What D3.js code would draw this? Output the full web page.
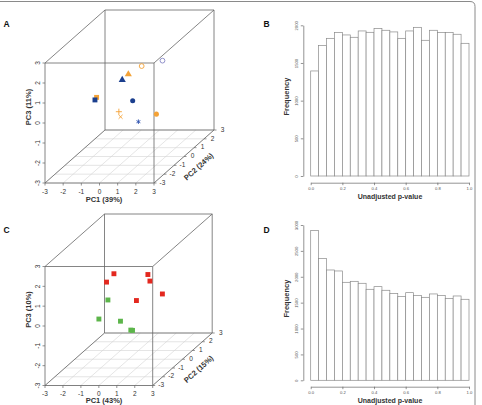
<!DOCTYPE html>
<html>
<head>
<meta charset="utf-8">
<script src="https://cdn.jsdelivr.net/npm/d3@7"></script>
<style>
  body { margin: 0; background: #fff; }
  text { font-family: "Liberation Sans", Arial, sans-serif; }
</style>
</head>
<body>
<div id="container"></div>
<script>
/* CONSTANTS AND GLOBALS */
const width = 482,
  height = 405;

/* DATA */
// panel A - PCA scores (PC1, PC2, PC3) per sample
const pcaA_pc1 = [0.12, 0.99, -0.34, -0.40, -0.71, -0.69, -0.10, -0.31, -0.16, 0.49, 2.03];
const pcaA_pc2 = [1.0, 1.5, 0.5, 0.0, -2.0, -2.2, 0.5, -0.5, -0.6, 0.0, -1.0];
const pcaA_pc3 = [1.08, 1.13, 0.89, 0.83, 0.84, 0.80, -0.43, -0.54, -0.75, -1.26, -0.44];
const pcaA_group = ["orange", "lilac", "orange", "blue", "orange", "blue", "blue", "orange", "orange", "blue", "orange"];
const pcaA_shape = ["circleOpen", "circleOpen", "triangle", "triangle", "square", "square", "circle", "plus", "times", "asterisk", "circle"];

// panel C - PCA scores, two groups
const pcaC_pc1 = [-1.37, -1.23, -0.03, 0.36, 1.33, 0.16, -0.60, -0.55, 0.10, 0.40, 0.55];
const pcaC_pc2 = [1.0, 0.0, 2.0, 1.5, 1.0, 0.5, -1.0, -2.0, -1.0, -0.5, -0.6];
const pcaC_pc3 = [0.87, 0.89, 0.39, 0.28, -0.15, -0.26, 0.43, -0.09, -0.64, -1.31, -1.28];
const pcaC_group = ["red", "red", "red", "red", "red", "red", "green", "green", "green", "green", "green"];

const pcTicks = [-3, -2, -1, 0, 1, 2, 3];

// histograms - bins of width 0.05 on [0, 1]
const binStarts = [0, 0.05, 0.1, 0.15, 0.2, 0.25, 0.3, 0.35, 0.4, 0.45, 0.5, 0.55, 0.6, 0.65, 0.7, 0.75, 0.8, 0.85, 0.9, 0.95];
const histB_counts = [1394, 1730, 1827, 1903, 1872, 1841, 1925, 1907, 1956, 1934, 1912, 1827, 1925, 1973, 1801, 1934, 1903, 1903, 1881, 1761];
const histD_counts = [2891, 2350, 2131, 2112, 1893, 1912, 1874, 1758, 1809, 1739, 1674, 1616, 1693, 1636, 1603, 1668, 1636, 1578, 1629, 1565];
const pTicks = [0, 0.2, 0.4, 0.6, 0.8, 1.0];
const freqTicksB = [0, 500, 1000, 1500, 2000];
const freqTicksD = [0, 500, 1000, 1500, 2000, 2500, 3000];

const colors = {
  orange: "#f4a236",
  blue: "#1b3f8e",
  lilac: "#8686c4",
  red: "#e3281f",
  green: "#5cb54a"
};

const svg = d3.select("#container")
  .append("svg")
  .attr("width", width)
  .attr("height", height)
  .style("background", "#fff");

// outer frame of the figure
svg.append("path")
  .attr("d", "M0,1.5 H470 Q475,1.5 475,6.5 V410")
  .attr("fill", "none")
  .attr("stroke", "#8a8a8a")
  .attr("stroke-width", 1);

/* 3D SCATTER */
function drawCube(g, cfg, pts) {
  const x = d3.scaleLinear().domain([-3, 3]).range(cfg.xRange);
  const z = d3.scaleLinear().domain([-3, 3]).range(cfg.zRange);
  const depth = d3.scaleLinear().domain([-3, 3]).range([0, 1]);
  const proj = (a, b, c) => [x(a) + depth(b) * cfg.dx, z(c) + depth(b) * cfg.dy];
  const lbl = t => String(t);

  // floor grid
  pcTicks.forEach(t => {
    const p1 = proj(t, -3, -3), p2 = proj(t, 3, -3);
    const q1 = proj(-3, t, -3), q2 = proj(3, t, -3);
    g.append("line").attr("x1", p1[0]).attr("y1", p1[1]).attr("x2", p2[0]).attr("y2", p2[1])
      .attr("stroke", "#d4d4d4").attr("stroke-width", 0.6);
    g.append("line").attr("x1", q1[0]).attr("y1", q1[1]).attr("x2", q2[0]).attr("y2", q2[1])
      .attr("stroke", "#d4d4d4").attr("stroke-width", 0.6);
  });

  // box edges
  const c = [-3, 3];
  const edges = [];
  c.forEach(a => c.forEach(b => {
    edges.push([[-3, a, b], [3, a, b]]);
    edges.push([[a, -3, b], [a, 3, b]]);
    edges.push([[a, b, -3], [a, b, 3]]);
  }));
  g.selectAll("line.edge")
    .data(edges)
    .join("line")
    .attr("class", "edge")
    .attr("x1", d => proj(...d[0])[0])
    .attr("y1", d => proj(...d[0])[1])
    .attr("x2", d => proj(...d[1])[0])
    .attr("y2", d => proj(...d[1])[1])
    .attr("stroke", "#666")
    .attr("stroke-width", 0.8);

  // ticks and tick labels
  pcTicks.forEach(t => {
    const px = proj(t, -3, -3);
    g.append("line").attr("x1", px[0]).attr("y1", px[1]).attr("x2", px[0]).attr("y2", px[1] + 2.5)
      .attr("stroke", "#666").attr("stroke-width", 0.7);
    g.append("text").attr("x", px[0]).attr("y", px[1] + 9).attr("text-anchor", "middle")
      .attr("dominant-baseline", "middle").attr("font-size", 6.5).attr("fill", "#333").text(lbl(t));

    const pz = proj(-3, -3, t);
    g.append("line").attr("x1", pz[0]).attr("y1", pz[1]).attr("x2", pz[0] - 2.5).attr("y2", pz[1])
      .attr("stroke", "#666").attr("stroke-width", 0.7);
    g.append("text").attr("transform", `translate(${pz[0] - 7},${pz[1]}) rotate(-90)`)
      .attr("text-anchor", "middle").attr("dominant-baseline", "middle")
      .attr("font-size", 6.5).attr("fill", "#333").text(lbl(t));

    const py = proj(3, t, -3);
    g.append("line").attr("x1", py[0]).attr("y1", py[1]).attr("x2", py[0] + 2.5).attr("y2", py[1])
      .attr("stroke", "#666").attr("stroke-width", 0.7);
    g.append("text").attr("x", py[0] + 8.5).attr("y", py[1]).attr("text-anchor", "middle")
      .attr("dominant-baseline", "middle").attr("font-size", 6.5).attr("fill", "#333").text(lbl(t));
  });

  // axis titles
  g.append("text").attr("x", 104).attr("y", cfg.pc1LabelY).attr("text-anchor", "middle")
    .attr("dominant-baseline", "middle").attr("font-size", 7.5).attr("font-weight", "bold")
    .attr("fill", "#333").text(cfg.labels[0]);
  g.append("text").attr("transform", "translate(199,167) rotate(-42)").attr("text-anchor", "middle")
    .attr("dominant-baseline", "middle").attr("font-size", 7.5).attr("font-weight", "bold")
    .attr("fill", "#333").text(cfg.labels[1]);
  g.append("text").attr("transform", "translate(29,107) rotate(-90)").attr("text-anchor", "middle")
    .attr("dominant-baseline", "middle").attr("font-size", 7.5).attr("font-weight", "bold")
    .attr("fill", "#333").text(cfg.labels[2]);

  // points
  const symbolFor = {
    circle: d3.symbolCircle, circleOpen: d3.symbolCircle, triangle: d3.symbolTriangle,
    square: d3.symbolSquare, plus: d3.symbolPlus, times: d3.symbolTimes, asterisk: d3.symbolAsterisk
  };
  const sizeFor = { circle: 20, circleOpen: 18, triangle: 22, square: 24, plus: 14, times: 12, asterisk: 14 };
  const stroked = ["circleOpen", "plus", "times", "asterisk"];
  g.selectAll("path.pt")
    .data(pts)
    .join("path")
    .attr("class", "pt")
    .attr("transform", d => `translate(${proj(d.pc1, d.pc2, d.pc3).join(",")})`)
    .attr("d", d => d3.symbol().type(symbolFor[d.shape]).size(sizeFor[d.shape])())
    .attr("fill", d => stroked.includes(d.shape) ? "none" : colors[d.group])
    .attr("stroke", d => stroked.includes(d.shape) ? (d.shape === "asterisk" ? "#2f52b0" : colors[d.group]) : "none")
    .attr("stroke-width", 0.9);
}

const ptsA = pcaA_pc1.map((v, i) => ({ pc1: v, pc2: pcaA_pc2[i], pc3: pcaA_pc3[i], group: pcaA_group[i], shape: pcaA_shape[i] }));
const ptsC = pcaC_pc1.map((v, i) => ({ pc1: v, pc2: pcaC_pc2[i], pc3: pcaC_pc3[i], group: pcaC_group[i], shape: "square" }));

drawCube(svg.append("g"), { xRange: [45, 154], zRange: [183, 63], dx: 60, dy: -53, pc1LabelY: 200, labels: ["PC1 (39%)", "PC2 (24%)", "PC3 (11%)"] }, ptsA);
drawCube(svg.append("g").attr("transform", "translate(0,202.5)"), { xRange: [45, 152.7], zRange: [183, 64], dx: 59.5, dy: -52.5, pc1LabelY: 198.8, labels: ["PC1 (43%)", "PC2 (15%)", "PC3 (10%)"] }, ptsC);

/* HISTOGRAMS */
function drawHist(g, counts, yMax, yTop, yBase, yTicks, axisY) {
  const x = d3.scaleLinear().domain([0, 1]).range([310.7, 469]);
  const y = d3.scaleLinear().domain([0, yMax]).range([yBase, yTop]);

  g.selectAll("rect.bar")
    .data(counts)
    .join("rect")
    .attr("class", "bar")
    .attr("x", (d, i) => x(binStarts[i]))
    .attr("width", x(0.05) - x(0))
    .attr("y", d => y(d))
    .attr("height", d => yBase - y(d))
    .attr("fill", "#fff")
    .attr("stroke", "#8a8a8a")
    .attr("stroke-width", 0.7);

  const xAxis = g.append("g")
    .attr("transform", `translate(0,${axisY})`)
    .call(d3.axisBottom(x).tickValues(pTicks).tickFormat(d3.format(".1f")).tickSize(2.5).tickSizeOuter(0).tickPadding(2));
  xAxis.selectAll("text").attr("font-size", 4.2).attr("fill", "#555");

  const yAxis = g.append("g")
    .attr("transform", "translate(303.3,0)")
    .call(d3.axisLeft(y).tickValues(yTicks).tickFormat(d3.format("d")).tickSize(2.5).tickSizeOuter(0).tickPadding(2));
  yAxis.selectAll("text")
    .attr("font-size", 4.2).attr("fill", "#555")
    .attr("text-anchor", "middle").attr("dy", 0)
    .attr("transform", "translate(-6,0) rotate(-90)")
    .attr("x", 0).attr("y", 0).attr("dominant-baseline", "middle");

  [xAxis, yAxis].forEach(a => {
    a.selectAll("path, line").attr("stroke", "#666").attr("stroke-width", 0.7);
  });

  g.append("text").attr("x", 390).attr("y", axisY + 14.3).attr("text-anchor", "middle")
    .attr("dominant-baseline", "middle").attr("font-size", 7).attr("font-weight", "bold")
    .attr("fill", "#333").text("Unadjusted p-value");
  g.append("text").attr("transform", `translate(287,${(yBase + yTop) / 2 - 4}) rotate(-90)`)
    .attr("text-anchor", "middle").attr("dominant-baseline", "middle")
    .attr("font-size", 7.5).attr("font-weight", "bold").attr("fill", "#333").text("Frequency");
}

drawHist(svg.append("g"), histB_counts, 2000, 25.3, 176, freqTicksB, 182.7);
drawHist(svg.append("g"), histD_counts, 3000, 225, 380.3, freqTicksD, 386.7);

// panel letters
[["A", 6.5, 25], ["B", 266.5, 25], ["C", 6.5, 231], ["D", 266.5, 231]].forEach(l => {
  svg.append("text").attr("x", l[1]).attr("y", l[2]).attr("text-anchor", "middle")
    .attr("dominant-baseline", "middle").attr("font-size", 8.5).attr("font-weight", "bold")
    .attr("fill", "#111").text(l[0]);
});
</script>
</body>
</html>
